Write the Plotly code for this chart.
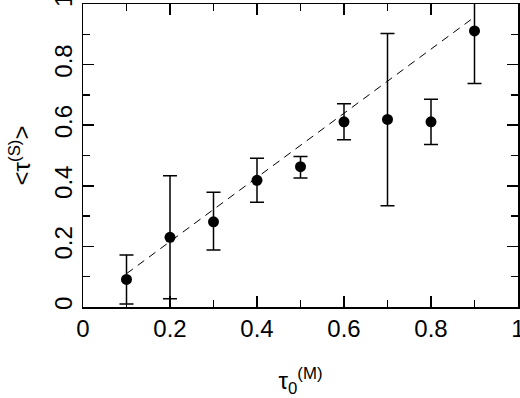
import plotly.graph_objects as go

tau0_M = [0.1, 0.2, 0.3, 0.4, 0.5, 0.6, 0.7, 0.8, 0.9]
tau_S_mean = [0.091, 0.230, 0.281, 0.418, 0.463, 0.611, 0.619, 0.611, 0.911]
err_upper = [0.081, 0.203, 0.098, 0.073, 0.034, 0.060, 0.284, 0.075, 0.173]
err_lower = [0.081, 0.203, 0.093, 0.072, 0.037, 0.059, 0.285, 0.075, 0.173]

fit_x = [0.1, 0.9]
fit_y = [0.11, 0.957]

tick_vals = [0, 0.2, 0.4, 0.6, 0.8, 1]
tick_text = ["0", "0.2", "0.4", "0.6", "0.8", "1"]

fig = go.Figure()
fig.add_trace(go.Scatter(
    x=fit_x, y=fit_y, mode="lines",
    line=dict(color="black", width=1, dash="8px,6px"),
    showlegend=False, hoverinfo="skip"))
fig.add_trace(go.Scatter(
    x=tau0_M, y=tau_S_mean, mode="markers",
    marker=dict(color="black", size=11),
    error_y=dict(type="data", symmetric=False, array=err_upper,
                 arrayminus=err_lower, color="black", thickness=1.5, width=7),
    showlegend=False, cliponaxis=True, hoverinfo="skip"))

font_family = "Liberation Sans"

axis_common = dict(
    range=[-0.00001, 1.00001], tickvals=tick_vals, ticktext=tick_text,
    ticks="inside", ticklen=11, tickwidth=1.5, tickcolor="black",
    showline=True, linecolor="black", linewidth=1.5, mirror="ticks",
    showgrid=False, zeroline=False, automargin=False,
    ticklabeloverflow="allow",
    minor=dict(tickvals=[0.1, 0.3, 0.5, 0.7, 0.9], ticks="inside", ticklen=7,
               tickwidth=1.5, tickcolor="black", showgrid=False),
    tickfont=dict(size=24, color="black", family=font_family),
)

fig.update_xaxes(**axis_common,
                 title=dict(text="τ<sub>0</sub><sup>(M)</sup>",
                            font=dict(size=24, color="black", family=font_family),
                            standoff=36))
fig.update_yaxes(**axis_common, tickangle=-90,
                 title=dict(text="&lt;τ<sup>(S)</sup>&gt;",
                            font=dict(size=24, color="black", family=font_family),
                            standoff=12))

fig.update_layout(
    width=520, height=398,
    margin=dict(l=83, r=2, t=4, b=91),
    plot_bgcolor="white", paper_bgcolor="white",
    font=dict(family=font_family, color="black"),
    hovermode=False,
)

fig.write_html("out.html", config={"displayModeBar": False, "staticPlot": True},
               post_script="document.body.style.margin='0';")
